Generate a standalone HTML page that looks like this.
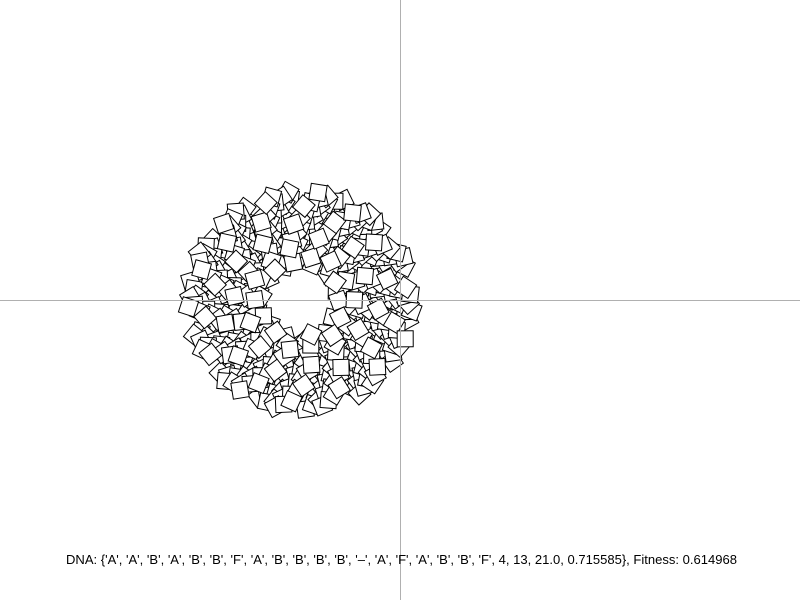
<!DOCTYPE html>
<html><head><meta charset="utf-8"><style>
html,body{margin:0;padding:0;background:#fff;}
svg{display:block;}
</style></head><body>
<svg id="chart" width="800" height="600" viewBox="0 0 800 600" xmlns="http://www.w3.org/2000/svg">
<rect width="800" height="600" fill="#fff"/>
<g id="squares"></g>
<line x1="400.5" y1="0" x2="400.5" y2="600" stroke="#b0b0b0" stroke-width="1"/>
<line x1="0" y1="300.5" x2="800" y2="300.5" stroke="#b0b0b0" stroke-width="1"/>
<text x="66" y="564" textLength="671" lengthAdjust="spacingAndGlyphs" font-family="Liberation Sans, sans-serif" font-size="12.5" fill="#000">DNA: {'A', 'A', 'B', 'A', 'B', 'B', 'F', 'A', 'B', 'B', 'B', 'B', '–', 'A', 'F', 'A', 'B', 'B', 'F', 4, 13, 21.0, 0.715585}, Fitness: 0.614968</text>
</svg>
<script>
const ringCenter = [301, 300];
const ringRadii = [36, 113];
const squareCount = [440];
const squareSide = [16];
(function(){
  const g = document.getElementById('squares');
  const n = squareCount[0];
  const r0 = ringRadii[0], r1 = ringRadii[1];
  const frac = v => v - Math.floor(v);
  for (let i = 0; i < n; i++) {
    const t = frac(0.5 + i * 0.5698402910);
    const u = frac(0.5 + i * 0.7548776662);
    const r = Math.sqrt(r0*r0 + t*(r1*r1 - r0*r0));
    const a = u * 2 * Math.PI;
    const x = ringCenter[0] + r * Math.cos(a);
    const y = ringCenter[1] + r * Math.sin(a) * 0.97;
    const rot = frac(i * 0.41421356 + 0.2) * 90;
    const s = squareSide[0];
    const el = document.createElementNS('http://www.w3.org/2000/svg', 'rect');
    el.setAttribute('x', (-s/2).toFixed(1));
    el.setAttribute('y', (-s/2).toFixed(1));
    el.setAttribute('width', s);
    el.setAttribute('height', s);
    el.setAttribute('fill', '#fff');
    el.setAttribute('stroke', '#000');
    el.setAttribute('stroke-width', '1');
    el.setAttribute('transform', 'translate(' + x.toFixed(1) + ',' + y.toFixed(1) + ') rotate(' + rot.toFixed(1) + ')');
    
    
    g.appendChild(el);
  }
})();
</script>
</body></html>
